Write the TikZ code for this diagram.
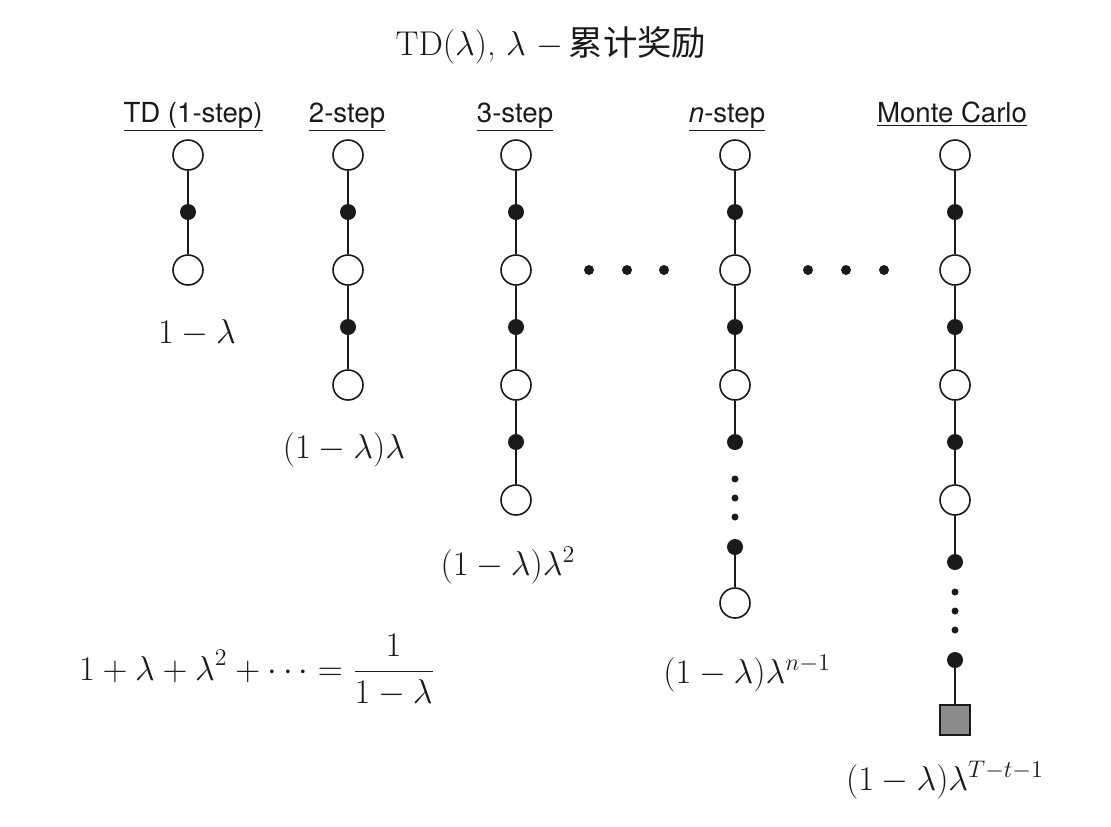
\documentclass[tikz,border=0pt]{standalone}
\usepackage{fontspec}
\setsansfont{TeX Gyre Heros}
\newfontfamily\cjk{Noto Sans CJK SC}
\usetikzlibrary{positioning}
\definecolor{ink}{HTML}{1A1A1A}
\definecolor{term}{HTML}{8C8C8C}
\tikzset{
  state/.style={circle, draw=ink, fill=white, line width=0.8pt, minimum size=15pt, inner sep=0pt},
  action/.style={circle, fill=ink, minimum size=8pt, inner sep=0pt},
  terminal/.style={rectangle, draw=ink, fill=term, line width=0.8pt, minimum size=15pt, inner sep=0pt},
  gapdot/.style={circle, fill=ink, minimum size=3.5pt, inner sep=0pt},
  skipdot/.style={circle, fill=ink, minimum size=5pt, inner sep=0pt},
  edge/.style={draw=ink, line width=0.9pt},
  head/.style={font=\sffamily\fontsize{13.8}{16}\selectfont, text=ink, anchor=base},
  weight/.style={font=\fontsize{17}{20}\selectfont, text=ink, anchor=base}
}
\begin{document}
\begin{tikzpicture}[x=0.5pt,y=-0.5pt]
\useasboundingbox (0,0) rectangle (1111,826);

\node[font=\fontsize{17.2}{20}\selectfont, text=ink] (title) at (551,45)
  {TD($\lambda$), $\lambda$ $-$\,{\cjk 累计奖励}};

% Column headers
\node[head] (h-td) at (193,122) {\underline{TD (1-step)}};
\node[head] (h-two) at (347,122) {\underline{2-step}};
\node[head] (h-three) at (515,122) {\underline{3-step}};
\node[head] (h-nst) at (727,122) {\underline{\textit{n}-step}};
\node[head] (h-mc) at (952,122) {\underline{Monte Carlo}};

% Backup chains
\foreach \col/\x/\k in {td/188/1, two/348/2, three/516/3, nst/735/2, mc/955/3} {
  \node[state] (\col-s0) at (\x,155) {};
  \foreach \i [count=\j from 0] in {1,...,\k} {
    \node[action] (\col-a\i) at (\x,97+115*\i) {};
    \node[state] (\col-s\i) at (\x,155+115*\i) {};
    \draw[edge] (\col-s\j) -- (\col-a\i) -- (\col-s\i);
  }
}

% n-step tail
\node[action] (nst-a3) at (735,442) {};
\draw[edge] (nst-s2) -- (nst-a3);
\node[gapdot] (nst-d1) at (735,479) {};
\node[gapdot] (nst-d2) at (735,498) {};
\node[gapdot] (nst-d3) at (735,517) {};
\node[action] (nst-a4) at (735,547) {};
\node[state] (nst-s3) at (735,603) {};
\draw[edge] (nst-a4) -- (nst-s3);

% Monte Carlo tail
\node[action] (mc-a4) at (955,562) {};
\draw[edge] (mc-s3) -- (mc-a4);
\node[gapdot] (mc-d1) at (955,592) {};
\node[gapdot] (mc-d2) at (955,611) {};
\node[gapdot] (mc-d3) at (955,630) {};
\node[action] (mc-a5) at (955,660) {};
\node[terminal] (mc-end) at (955,720) {};
\draw[edge] (mc-a5) -- (mc-end);

% Skipped columns
\node[skipdot] (sk1) at (589,270) {};
\node[skipdot] (sk2) at (627,270) {};
\node[skipdot] (sk3) at (664,270) {};
\node[skipdot] (sk4) at (808,270) {};
\node[skipdot] (sk5) at (846,270) {};
\node[skipdot] (sk6) at (884,270) {};

% Weights
\node[weight] (w-td) at (197,343) {$1-\lambda$};
\node[weight] (w-two) at (344,458) {$(1-\lambda)\lambda$};
\node[weight] (w-three) at (508,575) {$(1-\lambda)\lambda^2$};
\node[weight] (w-nst) at (747,683) {$(1-\lambda)\lambda^{n-1}$};
\node[weight] (w-mc) at (945,790) {$(1-\lambda)\lambda^{T-t-1}$};
\node[weight] (w-sum) at (257,680)
  {$\displaystyle 1+\lambda+\lambda^2+\cdots=\frac{1}{1-\lambda}$};

\end{tikzpicture}
\end{document}
